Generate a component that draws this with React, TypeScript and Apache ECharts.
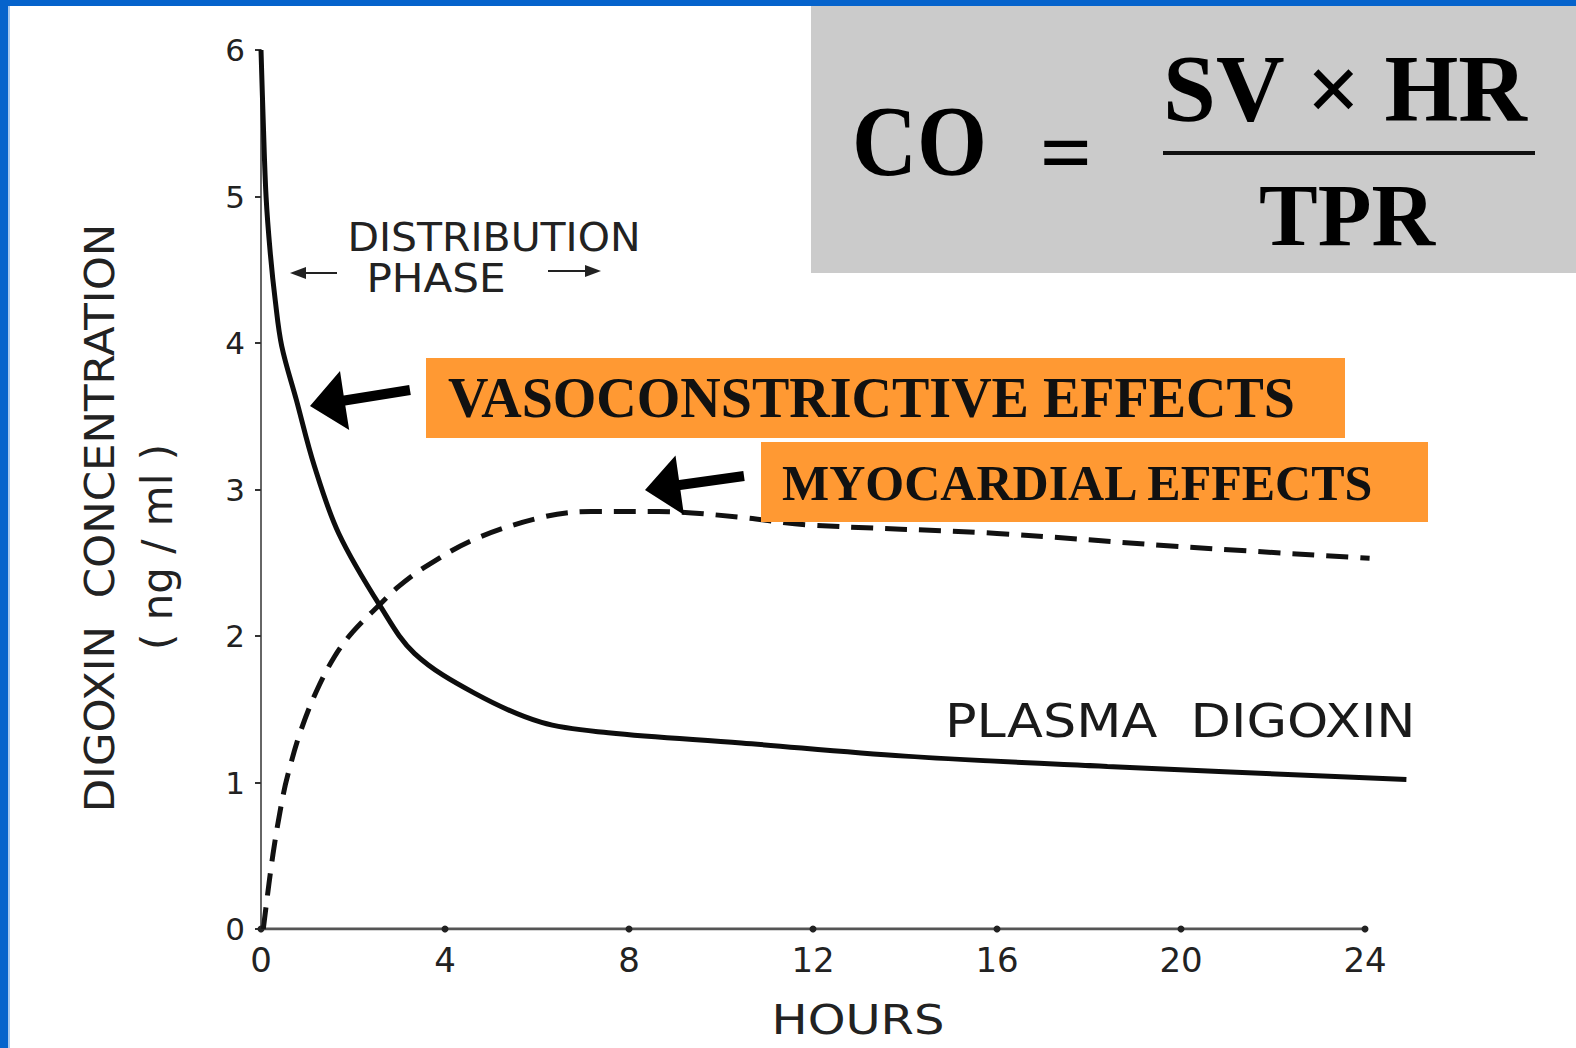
import React, { useEffect, useRef } from "react";
import * as echarts from "echarts";

// ---- data ----
const hourTicks = [0, 4, 8, 12, 16, 20, 24];
const yTicks = [0, 1, 2, 3, 4, 5, 6];

// Plasma digoxin (solid)
const plasmaHours = [0, 0.05, 0.11, 0.2, 0.31, 0.45, 0.77, 1.16, 1.69, 2.6, 3.34, 4.64, 6.1, 7.55, 10.44, 14.0, 18.4, 24.9];
const plasmaConc = [6, 5.5, 5.0, 4.62, 4.29, 3.98, 3.61, 3.16, 2.7, 2.2, 1.88, 1.61, 1.41, 1.34, 1.27, 1.18, 1.11, 1.02];

// Myocardial effects (dashed)
const myoHours = [0.05, 0.26, 0.46, 0.59, 0.85, 1.2, 1.6, 2.0, 2.6, 3.0, 3.56, 4.64, 6.1, 7.18, 8.64, 10.44, 11.83, 16.0, 20.0, 24.1];
const myoConc = [0, 0.51, 0.88, 1.06, 1.34, 1.62, 1.86, 2.03, 2.22, 2.34, 2.47, 2.66, 2.81, 2.85, 2.85, 2.81, 2.76, 2.7, 2.61, 2.53];

const SANS = "DejaVu Sans";
const SERIF = "Liberation Serif";

export default function App() {
  const ref = useRef<HTMLDivElement>(null);

  useEffect(() => {
    if (!ref.current) return;
    const chart = echarts.init(ref.current, null, { renderer: "svg" });

    const plasmaData = plasmaHours.map((t, i) => [t, plasmaConc[i]]);
    const myoData = myoHours.map((t, i) => [t, myoConc[i]]);
    const baseline = hourTicks.map((t) => [t, 0]);

    const option: any = {
      animation: false,
      backgroundColor: "#ffffff",
      textStyle: { fontFamily: SANS },
      grid: {
        left: 261,
        top: 50,
        width: 1150,
        height: 879,
        containLabel: false,
        outerBoundsMode: "none",
      },
      xAxis: {
        type: "value",
        min: 0,
        max: 25,
        interval: 4,
        splitLine: { show: false },
        axisLine: { show: false },
        axisTick: { show: false },
        axisLabel: {
          fontSize: 34,
          color: "#222",
          margin: 14,
          fontFamily: SANS,
          showMaxLabel: false,
          formatter: (v: number) => (hourTicks.indexOf(v) >= 0 ? String(v) : ""),
        },
      },
      yAxis: {
        type: "value",
        min: 0,
        max: 6,
        interval: 1,
        splitLine: { show: false },
        axisLine: { show: true, onZero: false, lineStyle: { color: "#666", width: 2 } },
        axisTick: { show: true, length: 6, lineStyle: { color: "#333", width: 2 } },
        axisLabel: {
          fontSize: 31,
          color: "#222",
          margin: 16,
          fontFamily: SANS,
        },
      },
      series: [
        {
          name: "Hours axis",
          type: "line",
          data: baseline,
          symbol: "circle",
          symbolSize: 7,
          showSymbol: true,
          itemStyle: { color: "#222" },
          lineStyle: { color: "#555", width: 3 },
          z: 3,
          silent: true,
        },
        {
          name: "MYOCARDIAL EFFECTS",
          type: "line",
          data: myoData,
          smooth: 0.35,
          showSymbol: false,
          lineStyle: { color: "#111", width: 5, type: [22, 12], cap: "butt" },
          z: 4,
        },
        {
          name: "PLASMA DIGOXIN",
          type: "line",
          data: plasmaData,
          smooth: 0.35,
          showSymbol: false,
          lineStyle: { color: "#0d0d0d", width: 5 },
          z: 5,
        },
      ],
      graphic: [
        // blue frame
        { type: "rect", z: 200, shape: { x: 0, y: 0, width: 8, height: 1048 }, style: { fill: "#0563cc" } },
        { type: "rect", z: 200, shape: { x: 0, y: 0, width: 1576, height: 6 }, style: { fill: "#0563cc" } },
        { type: "rect", z: 200, shape: { x: 8, y: 6, width: 2, height: 1042 }, style: { fill: "#a9c9ee" } },
        // formula box
        { type: "rect", z: 100, shape: { x: 811, y: 6, width: 765, height: 267 }, style: { fill: "#cbcbcb" } },
        {
          type: "text", z: 101, x: 852, y: 140, scaleX: 0.9,
          style: { text: "CO", x: 0, y: 0, textAlign: "left", textVerticalAlign: "middle", fontFamily: SERIF, fontWeight: "bold", fontSize: 100, fill: "#000" },
        },
        {
          type: "text", z: 101, x: 1066, y: 152,
          style: { text: "=", x: 0, y: 0, textAlign: "center", textVerticalAlign: "middle", fontFamily: SERIF, fontWeight: "bold", fontSize: 92, fill: "#000" },
        },
        {
          type: "text", z: 101, x: 1345, y: 89,
          style: { text: "SV × HR", x: 0, y: 0, textAlign: "center", textVerticalAlign: "middle", fontFamily: SERIF, fontWeight: "bold", fontSize: 95, fill: "#000" },
        },
        { type: "rect", z: 101, shape: { x: 1163, y: 151, width: 372, height: 4 }, style: { fill: "#111" } },
        {
          type: "text", z: 101, x: 1347, y: 215,
          style: { text: "TPR", x: 0, y: 0, textAlign: "center", textVerticalAlign: "middle", fontFamily: SERIF, fontWeight: "bold", fontSize: 88, fill: "#000" },
        },
        // orange labels
        { type: "rect", z: 100, shape: { x: 426, y: 358, width: 919, height: 80 }, style: { fill: "#ff9933" } },
        {
          type: "text", z: 101, x: 448, y: 398,
          style: { text: "VASOCONSTRICTIVE EFFECTS", x: 0, y: 0, textAlign: "left", textVerticalAlign: "middle", fontFamily: SERIF, fontWeight: "bold", fontSize: 56, fill: "#111" },
        },
        { type: "rect", z: 100, shape: { x: 761, y: 442, width: 667, height: 80 }, style: { fill: "#ff9933" } },
        {
          type: "text", z: 101, x: 782, y: 483,
          style: { text: "MYOCARDIAL EFFECTS", x: 0, y: 0, textAlign: "left", textVerticalAlign: "middle", fontFamily: SERIF, fontWeight: "bold", fontSize: 50, fill: "#111" },
        },
        // black arrows
        {
          type: "polygon", z: 102,
          shape: { points: [[310, 406], [340, 371], [343.7, 395.5], [409.2, 385], [410.8, 395], [345.3, 405.5], [349.2, 430]] },
          style: { fill: "#000" },
        },
        {
          type: "polygon", z: 102,
          shape: { points: [[645, 490], [675.5, 455.4], [679, 480.1], [743.3, 471], [744.7, 481], [680.4, 490.1], [683.9, 514.8]] },
          style: { fill: "#000" },
        },
        // distribution phase
        {
          type: "text", z: 50, x: 494, y: 237, scaleX: 1.05,
          style: { text: "DISTRIBUTION", x: 0, y: 0, textAlign: "center", textVerticalAlign: "middle", fontFamily: SANS, fontSize: 39, fill: "#222" },
        },
        {
          type: "text", z: 50, x: 436, y: 279, scaleX: 1.08,
          style: { text: "PHASE", x: 0, y: 0, textAlign: "center", textVerticalAlign: "middle", fontFamily: SANS, fontSize: 39, fill: "#222" },
        },
        { type: "line", z: 50, shape: { x1: 302, y1: 273, x2: 337, y2: 273 }, style: { stroke: "#222", lineWidth: 2 } },
        { type: "polygon", z: 50, shape: { points: [[290, 273], [306, 267], [306, 279]] }, style: { fill: "#222" } },
        { type: "line", z: 50, shape: { x1: 548, y1: 271, x2: 590, y2: 271 }, style: { stroke: "#222", lineWidth: 2 } },
        { type: "polygon", z: 50, shape: { points: [[601, 271], [585, 265], [585, 277]] }, style: { fill: "#222" } },
        // plasma digoxin label
        {
          type: "text", z: 50, x: 945, y: 721, scaleX: 1.14,
          style: { text: "PLASMA  DIGOXIN", x: 0, y: 0, textAlign: "left", textVerticalAlign: "middle", fontFamily: SANS, fontSize: 46, fill: "#1a1a1a" },
        },
        // axis titles
        {
          type: "text", z: 50, x: 100, y: 518, rotation: Math.PI / 2, scaleX: 1.06,
          style: { text: "DIGOXIN  CONCENTRATION", x: 0, y: 0, textAlign: "center", textVerticalAlign: "middle", fontFamily: SANS, fontSize: 41, fill: "#222" },
        },
        {
          type: "text", z: 50, x: 157, y: 547, rotation: Math.PI / 2,
          style: { text: "( ng / ml )", x: 0, y: 0, textAlign: "center", textVerticalAlign: "middle", fontFamily: SANS, fontSize: 42, fill: "#222" },
        },
        {
          type: "text", z: 50, x: 858, y: 1020, scaleX: 1.2,
          style: { text: "HOURS", x: 0, y: 0, textAlign: "center", textVerticalAlign: "middle", fontFamily: SANS, fontSize: 40, fill: "#222" },
        },
      ],
    };

    chart.setOption(option);
    return () => chart.dispose();
  }, []);

  return (
    <div
      ref={ref}
      style={{ position: "absolute", left: 0, top: 0, width: 1576, height: 1048, background: "#fff" }}
    />
  );
}
